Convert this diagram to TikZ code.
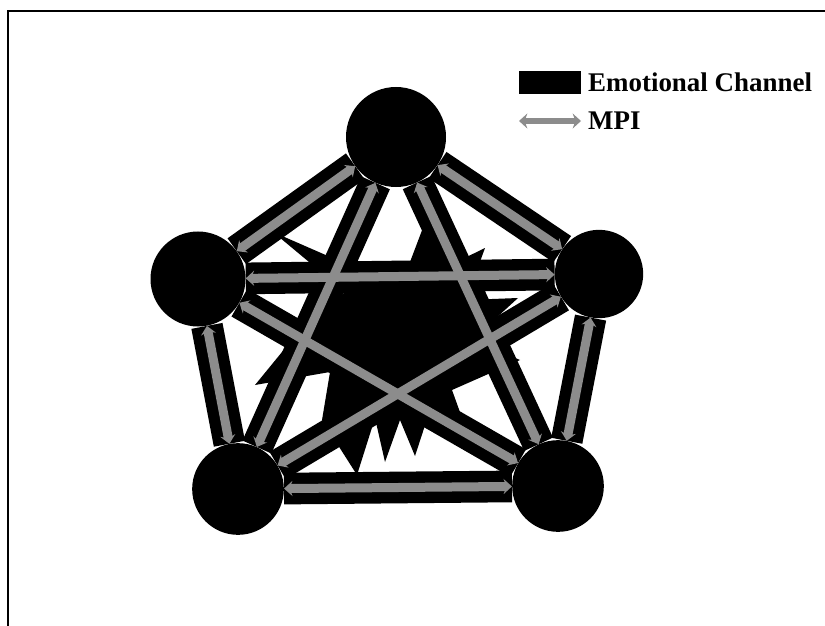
\documentclass[tikz,border=0pt]{standalone}
\usepackage{fontspec}
\setmainfont{Liberation Serif}
\usetikzlibrary{positioning, arrows.meta, backgrounds}

\begin{document}
\begin{tikzpicture}[x=0.03cm, y=-0.03cm,
  agent/.style={circle, fill=black, inner sep=0pt},
  channel/.style={line width=0.95cm, black},
  mpi/.style={{Stealth[length=2.5mm, width=4.5mm]}-{Stealth[length=2.5mm, width=4.5mm]}, line width=0.27cm, black!45},
  legendtext/.style={font=\fontsize{23}{26}\selectfont\bfseries, inner sep=0pt, anchor=west}]
\useasboundingbox (0,0) rectangle (825,626);
\draw[line width=0.06cm] (8,626) -- (8,11) -- (825,11);

\node (T) [agent, minimum size=3.0cm] at (396,137) {};
\node (L) [agent, minimum size=2.85cm] at (198,279) {};
\node (R) [agent, minimum size=2.65cm] at (599,274) {};
\node (BL) [agent, minimum size=2.75cm] at (238,489) {};
\node (BR) [agent, minimum size=2.75cm] at (558,486) {};

\begin{pgfonlayer}{background}
% emotional channels
\draw[channel] (T) -- (L);
\draw[channel] (T) -- (R);
\draw[channel] (L) -- (R);
\draw[channel] (L) -- (BL);
\draw[channel] (R) -- (BR);
\draw[channel] (BL) -- (BR);
\draw[channel] (T) -- (BL);
\draw[channel] (T) -- (BR);
\draw[channel] (L) -- (BR);
\draw[channel] (R) -- (BL);
% central burst
\fill[black] (360,270) -- (273,232) -- (345,292) -- (300,330) -- (255,385) -- (330,372)
  -- (322,420) -- (357,475) -- (375,418) -- (385,462) -- (400,420) -- (415,456)
  -- (430,410) -- (470,440) -- (452,390) -- (520,360) -- (472,340) -- (518,298)
  -- (466,300) -- (485,248) -- (440,270) -- (435,196) -- (410,262) -- cycle;
\end{pgfonlayer}

% MPI links
\draw[mpi] (T) -- (L);
\draw[mpi] (T) -- (R);
\draw[mpi] (L) -- (R);
\draw[mpi] (L) -- (BL);
\draw[mpi] (R) -- (BR);
\draw[mpi] (BL) -- (BR);
\draw[mpi] (T) -- (BL);
\draw[mpi] (T) -- (BR);
\draw[mpi] (L) -- (BR);
\draw[mpi] (R) -- (BL);

% legend
\node (chanbox) [fill=black, minimum width=1.86cm, minimum height=0.69cm, inner sep=0pt] at (550,82.5) {};
\node (chanlabel) [legendtext, right=0.2cm of chanbox] {Emotional Channel};
\coordinate (mpiL) at (519,121);
\coordinate (mpiR) at (581,121);
\draw[mpi, line width=0.2cm] (mpiL) -- (mpiR);
\node (mpilabel) [legendtext] at (588,121) {MPI};
\end{tikzpicture}
\end{document}
